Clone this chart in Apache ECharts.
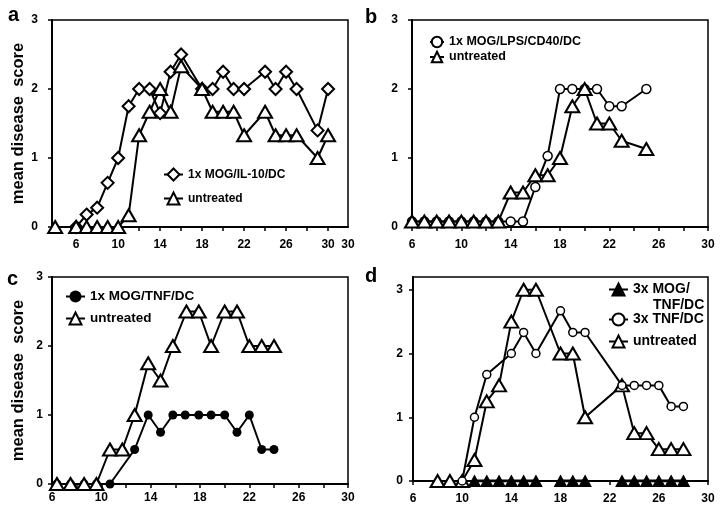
<!DOCTYPE html>
<html>
<head>
<meta charset="utf-8">
<script src="https://cdn.jsdelivr.net/npm/echarts@6/dist/echarts.min.js"></script>
<style>
html, body { margin: 0; padding: 0; background: #fff; }
#main { width: 720px; height: 514px; }
</style>
</head>
<body>
<div id="main"></div>
<script>
// panel a
const aIL10Days = [6, 7, 8, 9, 10, 11, 12, 13, 14, 15, 16, 18, 19, 20, 21, 22, 24, 25, 26, 27, 29, 30];
const aIL10Score = [0, 0.18, 0.28, 0.64, 1.0, 1.75, 2.0, 2.0, 1.65, 2.25, 2.5, 2.0, 2.0, 2.25, 2.0, 2.0, 2.25, 2.0, 2.25, 2.0, 1.4, 2.0];
const aUntrDays = [4, 6, 7, 8, 9, 10, 11, 12, 13, 14, 15, 16, 18, 19, 20, 21, 22, 24, 25, 26, 27, 29, 30];
const aUntrScore = [0, 0, 0, 0, 0, 0, 0.17, 1.33, 1.67, 2.0, 1.67, 2.33, 2.0, 1.67, 1.67, 1.67, 1.33, 1.67, 1.33, 1.33, 1.33, 1.0, 1.33];

// panel b
const bDays = [6, 7, 8, 9, 10, 11, 12, 13, 14, 15, 16, 17, 18, 19, 20, 21, 22, 23, 25];
const bLpsScore = [0.08, 0.08, 0.08, 0.08, 0.08, 0.08, 0.08, 0.08, 0.08, 0.08, 0.58, 1.03, 2.0, 2.0, 2.0, 2.0, 1.75, 1.75, 2.0];
const bUntrScore = [0.08, 0.08, 0.08, 0.08, 0.08, 0.08, 0.08, 0.08, 0.5, 0.5, 0.75, 0.75, 1.0, 1.75, 2.0, 1.5, 1.5, 1.25, 1.13];

// panel c
const cTnfDays = [6.4, 7.5, 8.6, 9.6, 10.7, 12.7, 13.8, 14.8, 15.8, 16.8, 17.9, 18.9, 20, 21, 22, 23, 24];
const cTnfScore = [0, 0, 0, 0, 0, 0.5, 1.0, 0.75, 1.0, 1.0, 1.0, 1.0, 1.0, 0.75, 1.0, 0.5, 0.5];
const cUntrDays = [6.4, 7.5, 8.6, 9.6, 10.7, 11.7, 12.7, 13.8, 14.8, 15.8, 16.9, 17.9, 18.9, 20, 21, 22, 23, 24];
const cUntrScore = [0, 0, 0, 0, 0.5, 0.5, 1.0, 1.75, 1.5, 2.0, 2.5, 2.5, 2.0, 2.5, 2.5, 2.0, 2.0, 2.0];

// panel d (null = gap in the line)
const dMogDays = [11, 12, 13, 14, 15, 16, 17, 18, 19, 20, 21, 23, 24, 25, 26, 27, 28];
const dMogScore = [0, 0, 0, 0, 0, 0, null, 0, 0, 0, null, 0, 0, 0, 0, 0, 0];
const dTnfDays = [10, 11, 12, 14, 15, 16, 18, 19, 20, 23, 24, 25, 26, 27, 28];
const dTnfScore = [0, 1.0, 1.67, 2.0, 2.33, 2.0, 2.67, 2.33, 2.33, 1.5, 1.5, 1.5, 1.5, 1.17, 1.17];
const dUntrDays = [8, 9, 10, 11, 12, 13, 14, 15, 16, 18, 19, 20, 23, 24, 25, 26, 27, 28];
const dUntrScore = [0, 0, 0, 0.33, 1.25, 1.5, 2.5, 3.0, 3.0, 2.0, 2.0, 1.0, 1.5, 0.75, 0.75, 0.5, 0.5, 0.5];

// axis ticks / labels
const aTickVals = [4, 6, 8, 10, 12, 14, 16, 18, 20, 22, 24, 26, 28, 30];
const aLabelVals = [6, 10, 14, 18, 22, 26, 30, 31.9];
const aLabelText = ['6', '10', '14', '18', '22', '26', '30', '30'];
const dayTickVals = [6, 8, 10, 12, 14, 16, 18, 20, 22, 24, 26, 28, 30];
const dayLabelVals = [6, 10, 14, 18, 22, 26, 30];
const dayLabelText = ['6', '10', '14', '18', '22', '26', '30'];
const scoreVals = [0, 1, 2, 3];
const scoreText = ['0', '1', '2', '3'];

const FONT = '"Liberation Sans", Arial, sans-serif';
const txt = (size) => ({ color: '#000', fontSize: size, fontWeight: 'bold', fontFamily: FONT });

function pairs(days, scores) {
    return days.map((d, i) => [d, scores[i] == null ? '-' : scores[i]]);
}

function line(name, gi, days, scores, symbol, size, fill, border) {
    return {
        type: 'line',
        name: name,
        xAxisIndex: gi,
        yAxisIndex: gi,
        data: pairs(days, scores),
        symbol: symbol,
        symbolSize: size,
        showAllSymbol: true,
        connectNulls: false,
        animation: false,
        lineStyle: { color: '#000', width: 2 },
        itemStyle: { color: fill, borderColor: '#000', borderWidth: border },
        emphasis: { disabled: true }
    };
}

function xAxisOf(gi, min, max, ticks, vals, texts, margin) {
    return {
        type: 'value', gridIndex: gi, min: min, max: max,
        axisLine: { onZero: false, lineStyle: { color: '#000', width: 2 } },
        axisTick: { show: true, length: 4, lineStyle: { color: '#000', width: 1.5 }, customValues: ticks },
        axisLabel: Object.assign({
            customValues: vals,
            margin: margin,
            formatter: (v) => { let i = vals.indexOf(v); return i < 0 ? '' : texts[i]; }
        }, txt(12)),
        splitLine: { show: false }
    };
}

function yAxisOf(gi, max, margin, name) {
    return {
        type: 'value', gridIndex: gi, min: 0, max: max,
        name: name, nameLocation: 'middle', nameGap: 25, nameRotate: 90,
        nameTextStyle: txt(16.5),
        axisLine: { show: true, lineStyle: { color: '#000', width: 2 } },
        axisTick: { show: true, length: 4, lineStyle: { color: '#000', width: 1.5 }, customValues: scoreVals },
        axisLabel: Object.assign({
            customValues: scoreVals,
            margin: margin,
            formatter: (v) => { let i = scoreVals.indexOf(v); return i < 0 ? '' : scoreText[i]; }
        }, txt(12)),
        splitLine: { show: false }
    };
}

function legendOf(left, top, names, w, h, gap, size) {
    return {
        orient: 'vertical', left: left, top: top, itemWidth: w, itemHeight: h, itemGap: gap,
        data: names, textStyle: txt(size), selectedMode: false
    };
}

const box = { show: true, borderColor: '#000', borderWidth: 1.5, backgroundColor: 'transparent' };
const yName = 'mean disease  score';

const option = {
    backgroundColor: '#fff',
    animation: false,
    title: [
        { text: 'a', left: 8, top: 5, padding: 0, textStyle: txt(20) },
        { text: 'b', left: 365, top: 7, padding: 0, textStyle: txt(20) },
        { text: 'c', left: 7, top: 269, padding: 0, textStyle: txt(20) },
        { text: 'd', left: 365, top: 266, padding: 0, textStyle: txt(20) }
    ],
    grid: [
        Object.assign({ left: 52, top: 20, width: 296, height: 207 }, box),
        Object.assign({ left: 412, top: 20, width: 296, height: 207 }, box),
        Object.assign({ left: 52, top: 277, width: 296, height: 207 }, box),
        Object.assign({ left: 413, top: 277, width: 295, height: 204 }, box)
    ],
    xAxis: [
        xAxisOf(0, 3.7, 31.9, aTickVals, aLabelVals, aLabelText, 12),
        xAxisOf(1, 6, 30, dayTickVals, dayLabelVals, dayLabelText, 12),
        xAxisOf(2, 6, 30, dayTickVals, dayLabelVals, dayLabelText, 8),
        xAxisOf(3, 6, 30, dayTickVals, dayLabelVals, dayLabelText, 12)
    ],
    yAxis: [
        yAxisOf(0, 3, 14, yName),
        yAxisOf(1, 3, 14, ''),
        yAxisOf(2, 3, 9, yName),
        yAxisOf(3, 3.2, 10, '')
    ],
    legend: [
        legendOf(158, 162.5, ['1x MOG/IL-10/DC', 'untreated'], 19, 15, 10, 12),
        legendOf(424, 30.5, ['1x MOG/LPS/CD40/DC', 'untreated'], 14, 13, 2, 12.5),
        legendOf(60, 284.5, ['1x MOG/TNF/DC', 'untreated'], 19, 15, 8, 13.5),
        Object.assign(legendOf(603, 277.5, ['3x MOG/TNF/DC'], 19, 15, 8, 14), {
            formatter: () => '3x MOG/'
        }),
        legendOf(603, 307.5, ['3x TNF/DC', 'untreated'], 19, 15, 8, 14)
    ],
    graphic: [
        // second line of the 3x MOG/TNF/DC legend label
        { type: 'text', left: 653, top: 298, style: { text: 'TNF/DC', fill: '#000', font: 'bold 14px ' + FONT } }
    ],
    series: [
        line('1x MOG/IL-10/DC', 0, aIL10Days, aIL10Score, 'diamond', 12, '#fff', 2),
        line('untreated', 0, aUntrDays, aUntrScore, 'triangle', [14, 12], '#fff', 2),
        line('1x MOG/LPS/CD40/DC', 1, bDays, bLpsScore, 'circle', 9, '#fff', 1.5),
        line('untreated', 1, bDays, bUntrScore, 'triangle', [14, 12], '#fff', 2),
        line('1x MOG/TNF/DC', 2, cTnfDays, cTnfScore, 'circle', 9, '#000', 0),
        line('untreated', 2, cUntrDays, cUntrScore, 'triangle', [14, 12], '#fff', 2),
        line('untreated', 3, dUntrDays, dUntrScore, 'triangle', [14, 12], '#fff', 2),
        line('3x TNF/DC', 3, dTnfDays, dTnfScore, 'circle', 8, '#fff', 1.5),
        Object.assign(line('3x MOG/TNF/DC', 3, dMogDays, dMogScore, 'triangle', [12, 11], '#000', 1), {
            lineStyle: { color: '#000', width: 3 }
        })
    ]
};

const chart = echarts.init(document.getElementById('main'), null, { renderer: 'canvas' });
chart.setOption(option);
</script>
</body>
</html>
